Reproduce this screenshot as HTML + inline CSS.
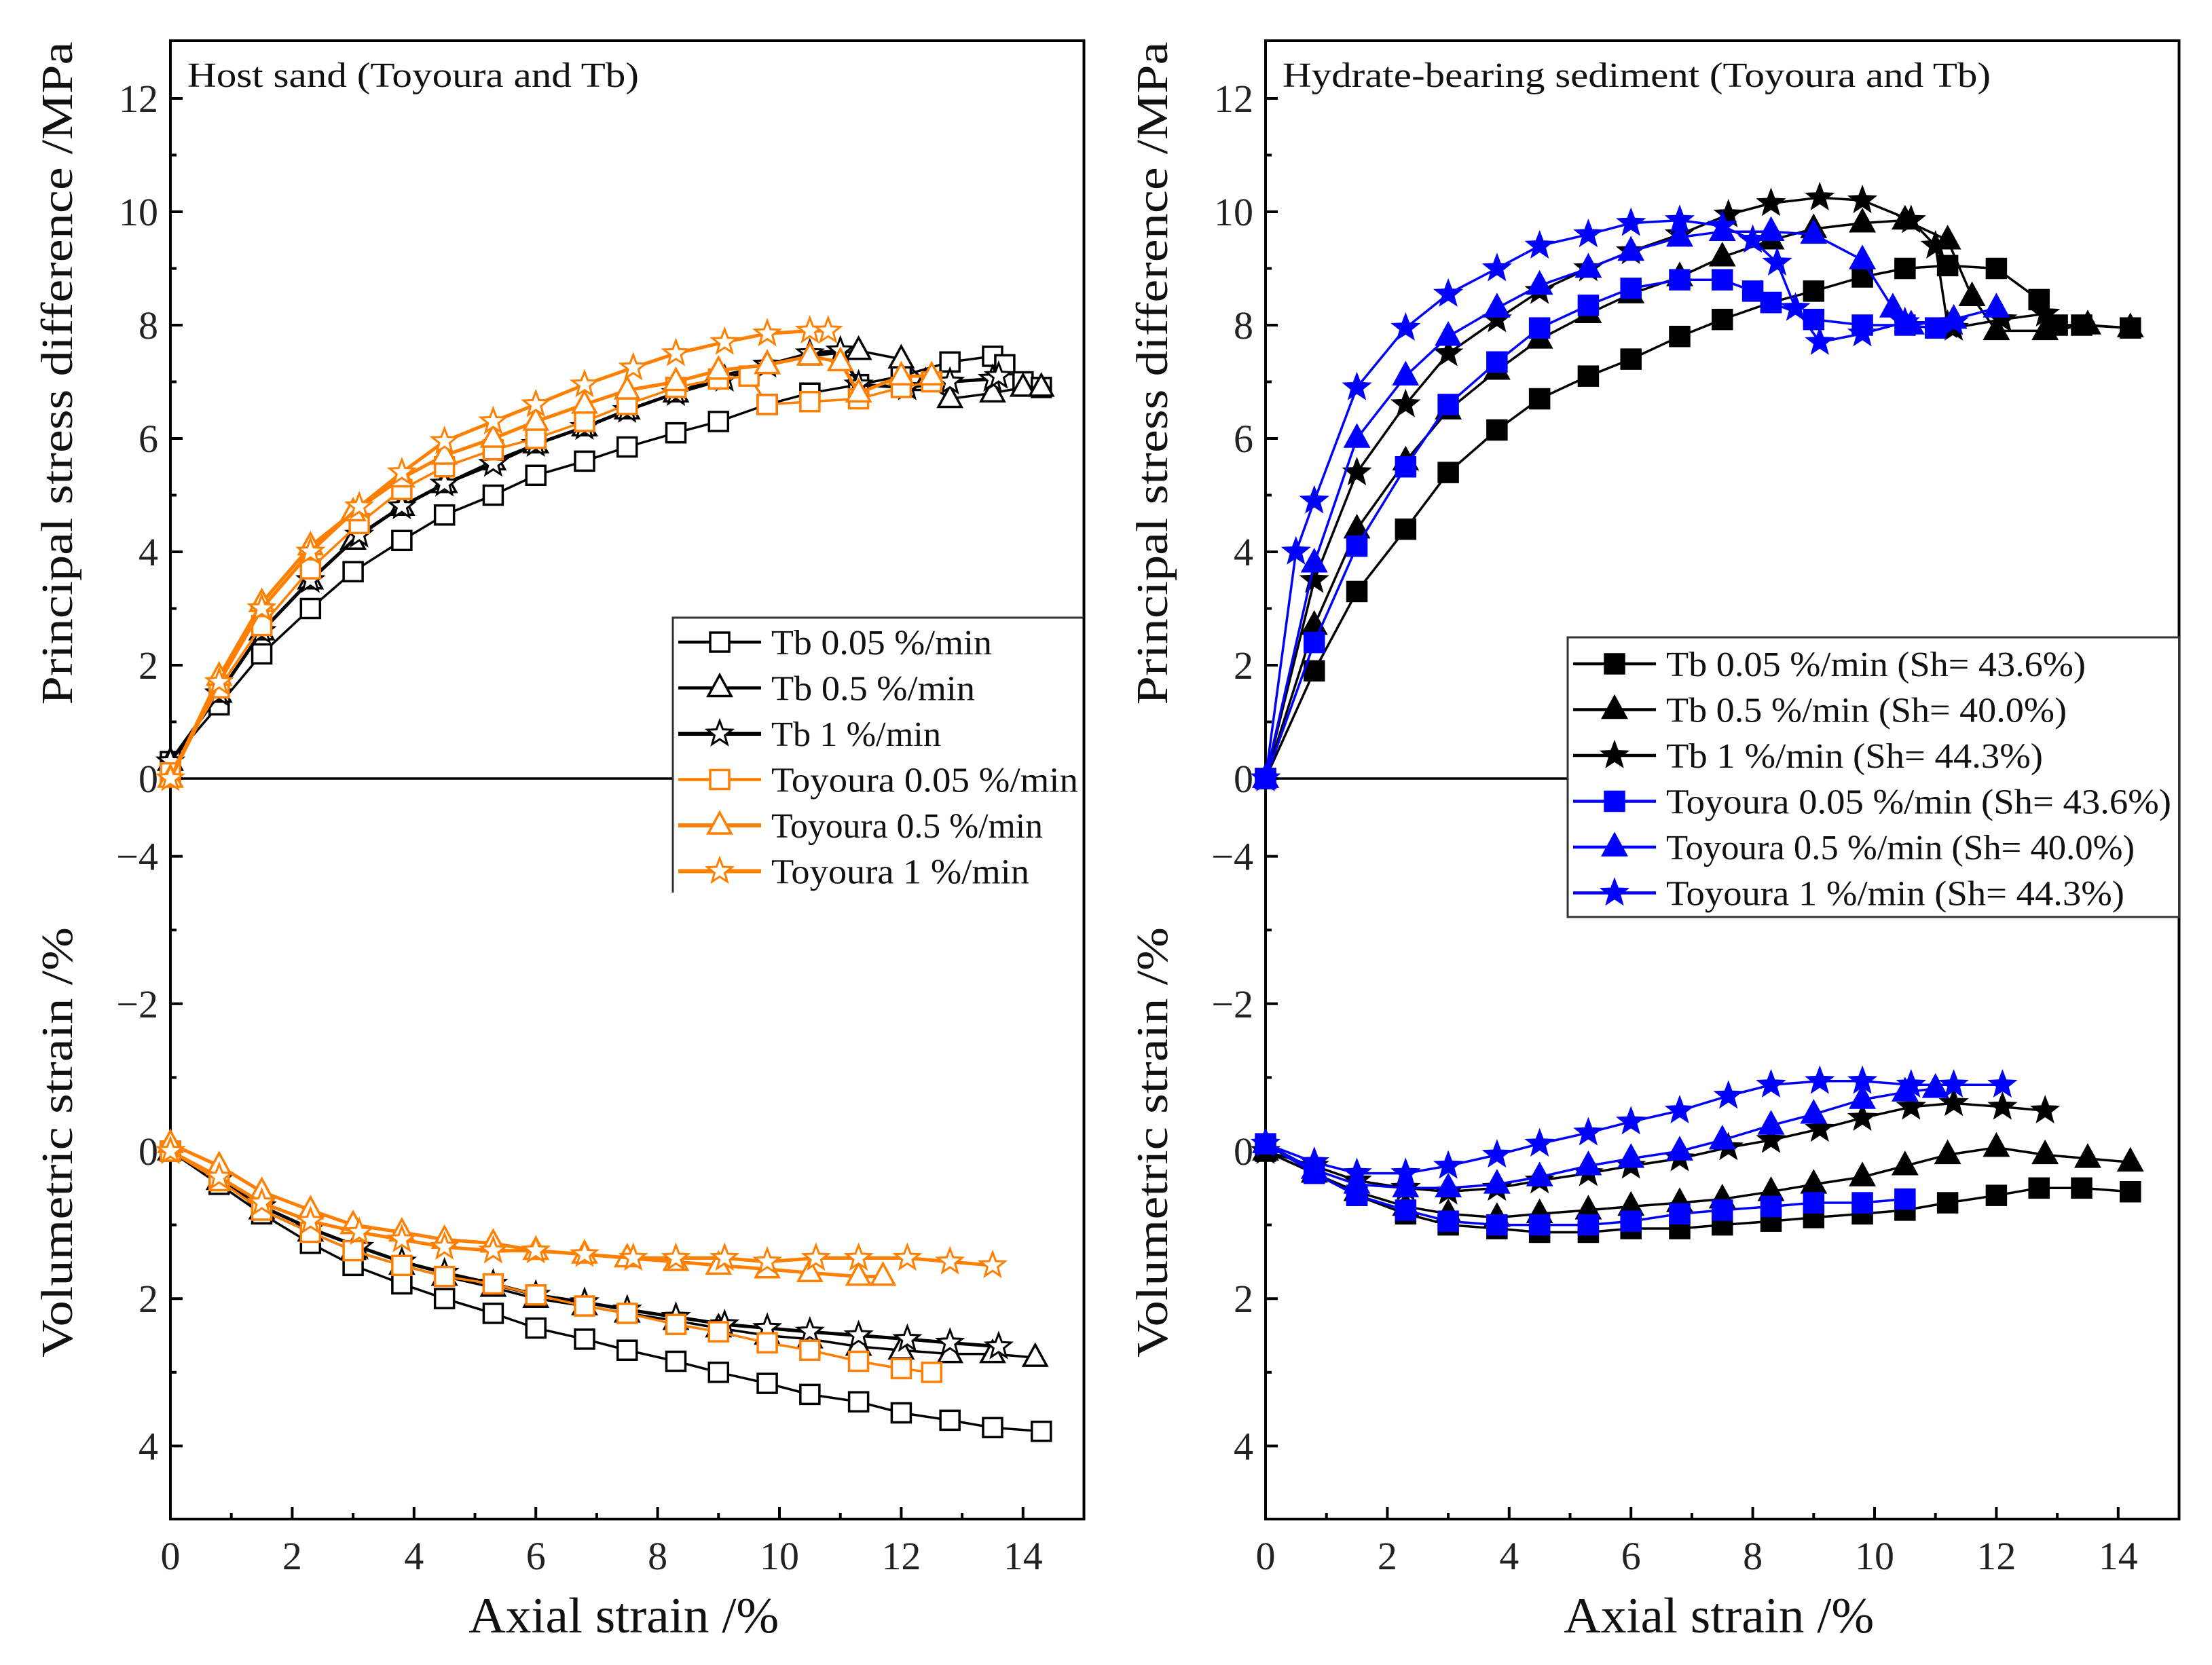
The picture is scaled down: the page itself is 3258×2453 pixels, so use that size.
<!DOCTYPE html>
<html><head><meta charset="utf-8"><style>
html,body{margin:0;padding:0;background:#fff;}
svg{display:block;font-family:"Liberation Serif",serif;}
</style></head><body>
<svg id="chart" width="3258" height="2453" viewBox="0 0 3258 2453" xmlns="http://www.w3.org/2000/svg"></svg>
<script>
// ===== Data (axial strain %, value) =====
const L_tb005_q = [[0,0.3],[0.8,1.3],[1.5,2.2],[2.3,3.0],[3.0,3.65],[3.8,4.2],[4.5,4.65],[5.3,5.0],[6,5.35],[6.8,5.6],[7.5,5.85],[8.3,6.1],[9,6.3],[9.8,6.6],[10.5,6.8],[11.3,6.95],[12,7.1],[12.8,7.35],[13.5,7.45],[13.7,7.3],[14,7.0],[14.3,6.9]];
const L_tb05_q = [[0,0.3],[0.8,1.5],[1.5,2.6],[2.3,3.5],[3,4.2],[3.8,4.8],[4.5,5.2],[5.3,5.6],[6,5.9],[6.8,6.2],[7.5,6.5],[8.3,6.8],[9,7.1],[9.8,7.3],[10.5,7.45],[11.3,7.55],[12,7.4],[12.4,7.0],[12.8,6.7],[13.5,6.8],[14,6.9],[14.3,6.9]];
const L_tb1_q = [[0,0.3],[0.8,1.5],[1.5,2.6],[2.3,3.5],[3.1,4.3],[3.8,4.8],[4.5,5.2],[5.3,5.55],[6,5.9],[6.8,6.2],[7.5,6.5],[8.3,6.8],[9.1,7.05],[9.8,7.3],[10.5,7.5],[11,7.55],[11.3,6.95],[12.1,6.9],[12.8,7.0],[13.5,7.05],[13.6,7.1]];
const L_to005_q = [[0,0.1],[0.8,1.6],[1.5,2.7],[2.3,3.7],[3.1,4.5],[3.8,5.1],[4.5,5.5],[5.3,5.8],[6,6.0],[6.8,6.3],[7.5,6.6],[8.3,6.9],[9,7.05],[9.5,7.1],[9.8,6.6],[10.5,6.65],[11.3,6.7],[12,6.9],[12.5,7.0]];
const L_to05_q = [[0,0],[0.8,1.8],[1.5,3.1],[2.3,4.1],[3,4.7],[3.8,5.3],[4.5,5.7],[5.3,6.0],[6,6.3],[6.8,6.6],[7.5,6.85],[8.3,7.0],[9,7.2],[9.8,7.3],[10.5,7.45],[11,7.35],[11.3,6.8],[12,7.1],[12.5,7.1]];
const L_to1_q = [[0,0],[0.8,1.7],[1.5,3.0],[2.3,4.0],[3.1,4.8],[3.8,5.4],[4.5,5.95],[5.3,6.3],[6,6.6],[6.8,6.95],[7.6,7.25],[8.3,7.5],[9.1,7.7],[9.8,7.85],[10.5,7.9],[10.8,7.9]];

const L_tb005_v = [[0,0],[0.8,0.45],[1.5,0.85],[2.3,1.25],[3,1.55],[3.8,1.8],[4.5,2.0],[5.3,2.2],[6,2.4],[6.8,2.55],[7.5,2.7],[8.3,2.85],[9,3.0],[9.8,3.15],[10.5,3.3],[11.3,3.4],[12,3.55],[12.8,3.65],[13.5,3.75],[14.3,3.8]];
const L_tb05_v = [[0,0],[0.8,0.4],[1.5,0.8],[2.3,1.1],[3,1.35],[3.8,1.55],[4.5,1.7],[5.3,1.85],[6,2.0],[6.8,2.1],[7.5,2.2],[8.3,2.3],[9,2.4],[9.8,2.5],[10.5,2.55],[11.3,2.65],[12,2.7],[12.8,2.75],[13.5,2.75],[14.2,2.8]];
const L_tb1_v = [[0,0],[0.8,0.38],[1.5,0.75],[2.3,1.05],[3.1,1.3],[3.8,1.5],[4.5,1.65],[5.3,1.8],[6,1.95],[6.8,2.05],[7.5,2.15],[8.3,2.25],[9.1,2.35],[9.8,2.4],[10.5,2.45],[11.3,2.5],[12.1,2.55],[12.8,2.6],[13.6,2.65]];
const L_to005_v = [[0,0],[0.8,0.4],[1.5,0.8],[2.3,1.1],[3,1.35],[3.8,1.55],[4.5,1.7],[5.3,1.8],[6,1.95],[6.8,2.1],[7.5,2.2],[8.3,2.35],[9,2.45],[9.8,2.6],[10.5,2.7],[11.3,2.85],[12,2.95],[12.5,3.0]];
const L_to05_v = [[0,-0.1],[0.8,0.2],[1.5,0.55],[2.3,0.8],[3,1.0],[3.8,1.1],[4.5,1.2],[5.3,1.25],[6,1.35],[6.8,1.4],[7.5,1.45],[8.3,1.5],[9,1.55],[9.8,1.6],[10.5,1.65],[11.3,1.7],[11.7,1.7]];
const L_to1_v = [[0,0],[0.8,0.35],[1.5,0.7],[2.3,0.95],[3.1,1.1],[3.8,1.2],[4.5,1.3],[5.3,1.35],[6,1.35],[6.8,1.4],[7.6,1.45],[8.3,1.45],[9.1,1.45],[9.8,1.5],[10.6,1.45],[11.3,1.45],[12.1,1.45],[12.8,1.5],[13.5,1.55]];

const R_tb005_q = [[0,0],[0.8,1.9],[1.5,3.3],[2.3,4.4],[3,5.4],[3.8,6.15],[4.5,6.7],[5.3,7.1],[6,7.4],[6.8,7.8],[7.5,8.1],[8.3,8.4],[9,8.6],[9.8,8.85],[10.5,9.0],[11.2,9.05],[12,9.0],[12.7,8.45],[13,8.0],[13.4,8.0],[14.2,7.95]];
const R_tb05_q = [[0,0],[0.8,2.7],[1.5,4.4],[2.3,5.6],[3,6.5],[3.8,7.2],[4.5,7.75],[5.3,8.2],[6,8.55],[6.8,8.85],[7.5,9.2],[8.3,9.5],[9,9.7],[9.8,9.8],[10.5,9.85],[11.2,9.5],[11.6,8.5],[12,7.9],[12.8,7.9],[13.5,8.0],[14.2,7.95]];
const R_tb1_q = [[0,0],[0.8,3.5],[1.5,5.4],[2.3,6.6],[3,7.5],[3.8,8.1],[4.5,8.6],[5.3,9.0],[6,9.3],[6.8,9.6],[7.6,9.95],[8.3,10.15],[9.1,10.25],[9.8,10.2],[10.6,9.85],[11,9.4],[11.2,8.0],[11.3,7.95],[12.1,8.1],[12.8,8.2]];
const R_to005_q = [[0,0],[0.8,2.4],[1.5,4.1],[2.3,5.5],[3,6.6],[3.8,7.35],[4.5,7.95],[5.3,8.35],[6,8.65],[6.8,8.8],[7.5,8.8],[8,8.6],[8.3,8.4],[9,8.1],[9.8,8.0],[10.5,8.0],[11,7.95]];
const R_to05_q = [[0,0],[0.8,3.8],[1.5,6.0],[2.3,7.1],[3,7.8],[3.8,8.3],[4.5,8.7],[5.3,9.0],[6,9.3],[6.8,9.55],[7.5,9.65],[8.3,9.65],[9,9.6],[9.8,9.15],[10.3,8.3],[10.6,8.0],[11.3,8.1],[12,8.3]];
const R_to1_q = [[0,0],[0.5,4.0],[0.8,4.9],[1.5,6.9],[2.3,7.95],[3,8.55],[3.8,9.0],[4.5,9.4],[5.3,9.6],[6,9.8],[6.8,9.85],[7.5,9.75],[8,9.5],[8.4,9.1],[8.7,8.3],[9.1,7.7],[9.8,7.85],[10.5,8.05],[11.3,8.05]];

const R_tb005_v = [[0,0],[0.8,0.3],[1.5,0.6],[2.3,0.85],[3,1.0],[3.8,1.05],[4.5,1.1],[5.3,1.1],[6,1.05],[6.8,1.05],[7.5,1.0],[8.3,0.95],[9,0.9],[9.8,0.85],[10.5,0.8],[11.2,0.7],[12,0.6],[12.7,0.5],[13.4,0.5],[14.2,0.55]];
const R_tb05_v = [[0,0],[0.8,0.3],[1.5,0.55],[2.3,0.75],[3,0.85],[3.8,0.9],[4.5,0.85],[5.3,0.8],[6,0.75],[6.8,0.7],[7.5,0.65],[8.3,0.55],[9,0.45],[9.8,0.35],[10.5,0.2],[11.2,0.05],[12,-0.05],[12.8,0.05],[13.5,0.1],[14.2,0.15]];
const R_tb1_v = [[0,0],[0.8,0.2],[1.5,0.4],[2.3,0.5],[3,0.55],[3.8,0.5],[4.5,0.4],[5.3,0.3],[6,0.2],[6.8,0.1],[7.6,-0.05],[8.3,-0.15],[9.1,-0.3],[9.8,-0.45],[10.6,-0.6],[11.3,-0.65],[12.1,-0.6],[12.8,-0.55]];
const R_to005_v = [[0,-0.1],[0.8,0.3],[1.5,0.6],[2.3,0.8],[3,0.95],[3.8,1.0],[4.5,1.0],[5.3,1.0],[6,0.95],[6.8,0.85],[7.5,0.8],[8.3,0.75],[9,0.7],[9.8,0.7],[10.5,0.65]];
const R_to05_v = [[0,-0.1],[0.8,0.25],[1.5,0.45],[2.3,0.5],[3,0.5],[3.8,0.45],[4.5,0.35],[5.3,0.2],[6,0.1],[6.8,0.0],[7.5,-0.15],[8.3,-0.35],[9,-0.5],[9.8,-0.7],[10.5,-0.8],[11,-0.85]];
const R_to1_v = [[0,-0.1],[0.8,0.15],[1.5,0.3],[2.3,0.3],[3,0.2],[3.8,0.05],[4.5,-0.1],[5.3,-0.25],[6,-0.4],[6.8,-0.55],[7.6,-0.75],[8.3,-0.9],[9.1,-0.95],[9.8,-0.95],[10.6,-0.9],[11.3,-0.9],[12.1,-0.9]];

const xTicks = [0,2,4,6,8,10,12,14];
const upperTicks = [0,2,4,6,8,10,12];
const lowerTicks = [-4,-2,0,2,4];
const leftLabels = ["Tb 0.05 %/min","Tb 0.5 %/min","Tb 1 %/min","Toyoura 0.05 %/min","Toyoura 0.5 %/min","Toyoura 1 %/min"];
const rightLabels = ["Tb 0.05 %/min (Sh= 43.6%)","Tb 0.5 %/min (Sh= 40.0%)","Tb 1 %/min (Sh= 44.3%)","Toyoura 0.05 %/min (Sh= 43.6%)","Toyoura 0.5 %/min (Sh= 40.0%)","Toyoura 1 %/min (Sh= 44.3%)"];

// ===== Layout =====
const NS="http://www.w3.org/2000/svg";
const svg=document.getElementById('chart');
const TOP=60, ZERO=1147, BOT=2238, XS=89.7, UY=83.5, LY=108.6, LZERO=1696;
function mk(tag,attrs,parent){const e=document.createElementNS(NS,tag);for(const k in attrs)e.setAttribute(k,attrs[k]);(parent||svg).appendChild(e);return e;}
function txt(s,attrs,parent){const e=mk('text',attrs,parent);e.textContent=s;return e;}

function marker(g,shape,cx,cy,color,filled,name){
  let e;
  const fill=filled?color:'#fff';
  if(shape==='sq'){e=mk('rect',{x:cx-14,y:cy-14,width:28,height:28,fill:fill,stroke:color,'stroke-width':3.5},g);}
  else if(shape==='tri'){e=mk('polygon',{points:`${cx},${cy-19} ${cx+17},${cy+12} ${cx-17},${cy+12}`,fill:fill,stroke:color,'stroke-width':3.5},g);}
  else {let p=[];for(let i=0;i<10;i++){const r=i%2?8:19;const a=-Math.PI/2+i*Math.PI/5;p.push((cx+r*Math.cos(a)).toFixed(1)+','+(cy+r*Math.sin(a)).toFixed(1));}
    e=mk('polygon',{points:p.join(' '),fill:fill,stroke:color,'stroke-width':3},g);}
  
  
}

function panel(X0,title,titleLen,series,labels,legendBox,filled){
  const X1=X0+15*XS;
  const px=x=>X0+x*XS, pu=v=>ZERO-v*UY, pl=v=>LZERO+v*LY;
  const g=mk('g',{});
  
  
  // frame
  const fr=mk('rect',{x:X0,y:TOP,width:X1-X0,height:BOT-TOP,fill:'none',stroke:'#000','stroke-width':4},g);
  
  
  const zl=mk('line',{x1:X0,x2:X1,y1:ZERO,y2:ZERO,stroke:'#000','stroke-width':3.5},g);
  
  
  // x ticks
  for(let i=0;i<=15;i++){const maj=i%2===0;const t=mk('line',{x1:px(i),x2:px(i),y1:BOT,y2:BOT-(maj?18:9),stroke:'#000','stroke-width':4},g);
    
    }
  xTicks.forEach(v=>{const t=txt(String(v),{x:px(v),y:2312,'font-size':58,'text-anchor':'middle',fill:'#222'},g);
    
    });
  // upper y ticks
  for(let v=0;v<=12;v++){const maj=v%2===0;const t=mk('line',{x1:X0,x2:X0+(maj?18:9),y1:pu(v),y2:pu(v),stroke:'#000','stroke-width':4},g);
    
    }
  upperTicks.forEach(v=>{const t=txt(String(v),{x:X0-18,y:pu(v)+20,'font-size':58,'text-anchor':'end',fill:'#222'},g);
    
    });
  for(let v=-4;v<=4;v++){const maj=v%2===0;const t=mk('line',{x1:X0,x2:X0+(maj?18:9),y1:pl(v),y2:pl(v),stroke:'#000','stroke-width':4},g);
    
    }
  lowerTicks.forEach(v=>{const t=txt(v<0?'\u2212'+Math.abs(v):String(v),{x:X0-18,y:pl(v)+20,'font-size':58,'text-anchor':'end',fill:'#222'},g);
    
    });
  // titles
  const tt=txt(title,{x:X0+25,y:128,'font-size':52,textLength:titleLen,lengthAdjust:'spacingAndGlyphs',fill:'#111'},g);
  
  
  const xt=txt('Axial strain /%',{x:(X0+X1)/2-5,y:2405,'font-size':74,'text-anchor':'middle',textLength:457,lengthAdjust:'spacingAndGlyphs',fill:'#111'},g);
  
  
  const yx=X0-145;
  const y1=txt('Principal stress difference /MPa',{x:0,y:0,'font-size':66,'text-anchor':'middle',textLength:977,lengthAdjust:'spacingAndGlyphs',transform:`translate(${yx},550) rotate(-90)`,fill:'#111'},g);
  
  
  const y2=txt('Volumetric strain /%',{x:0,y:0,'font-size':66,'text-anchor':'middle',textLength:634,lengthAdjust:'spacingAndGlyphs',transform:`translate(${yx},1683) rotate(-90)`,fill:'#111'},g);
  
  
  // series
  series.forEach(s=>{
    [[s.q,pu],[s.v,pl]].forEach(([data,py],k)=>{
      const sg=mk('g',{},g);
      
      
      const pl2=mk('polyline',{points:data.map(d=>px(d[0]).toFixed(1)+','+py(d[1]).toFixed(1)).join(' '),fill:'none',stroke:s.color,'stroke-width':s.w,'stroke-linejoin':'round'},sg);
      
      
      data.forEach((d,i)=>{ if(i===0 && d[0]===0 && !filled) {} marker(sg,s.shape,px(d[0]),py(d[1]),s.color,filled,'data-point'); });
    });
  });
  // legend
  const lg=mk('g',{},g);
  
  
  const lb=legendBox;
  if(filled){const r=mk('rect',{x:lb.x,y:lb.y,width:X1-lb.x,height:lb.h,fill:'#fff',stroke:'#333','stroke-width':3},lg);
    
    }
  else{const r=mk('rect',{x:lb.x,y:lb.y,width:X1-lb.x,height:lb.h,fill:'#fff',stroke:'none'},lg);
    
    
    const p=mk('polyline',{points:`${lb.x},${lb.y+lb.h} ${lb.x},${lb.y} ${X1},${lb.y}`,fill:'none',stroke:'#333','stroke-width':3},lg);
    
    
    mk('line',{x1:X1,x2:X1,y1:lb.y,y2:lb.y+lb.h,stroke:'#000','stroke-width':4},lg);}
  series.forEach((s,i)=>{
    const y=lb.row0+i*67.5;
    const eg=mk('g',{},lg);
    
    
    mk('line',{x1:lb.x+8,x2:lb.x+130,y1:y,y2:y,stroke:s.color,'stroke-width':s.w+1},eg);
    marker(eg,s.shape,lb.x+69,y,s.color,filled,'legend-marker');
    const t=txt(labels[i],{x:lb.x+145,y:y+18,'font-size':52,textLength:lb.tl[i],lengthAdjust:'spacingAndGlyphs',fill:'#111'},eg);
    
    
  });
}

const OR='#ff8000', BL='#0000ff';
panel(251,'Host sand (Toyoura and Tb)',665,[
  {name:'tb-0.05',q:L_tb005_q,v:L_tb005_v,shape:'sq',color:'#000',w:3.5},
  {name:'tb-0.5',q:L_tb05_q,v:L_tb05_v,shape:'tri',color:'#000',w:3.5},
  {name:'tb-1',q:L_tb1_q,v:L_tb1_v,shape:'star',color:'#000',w:5},
  {name:'toyoura-0.05',q:L_to005_q,v:L_to005_v,shape:'sq',color:OR,w:3.5},
  {name:'toyoura-0.5',q:L_to05_q,v:L_to05_v,shape:'tri',color:OR,w:5},
  {name:'toyoura-1',q:L_to1_q,v:L_to1_v,shape:'star',color:OR,w:5}
],leftLabels,{x:991,y:910,h:405,row0:946,tl:[325,300,250,452,400,380]},false);

panel(1864,'Hydrate-bearing sediment (Toyoura and Tb)',1043,[
  {name:'tb-0.05',q:R_tb005_q,v:R_tb005_v,shape:'sq',color:'#000',w:3.5},
  {name:'tb-0.5',q:R_tb05_q,v:R_tb05_v,shape:'tri',color:'#000',w:3.5},
  {name:'tb-1',q:R_tb1_q,v:R_tb1_v,shape:'star',color:'#000',w:3.5},
  {name:'toyoura-0.05',q:R_to005_q,v:R_to005_v,shape:'sq',color:BL,w:3.5},
  {name:'toyoura-0.5',q:R_to05_q,v:R_to05_v,shape:'tri',color:BL,w:3.5},
  {name:'toyoura-1',q:R_to1_q,v:R_to1_v,shape:'star',color:BL,w:3.5}
],rightLabels,{x:2309,y:939,h:412,row0:978,tl:[618,590,555,744,690,675]},true);
</script>
</body></html>
